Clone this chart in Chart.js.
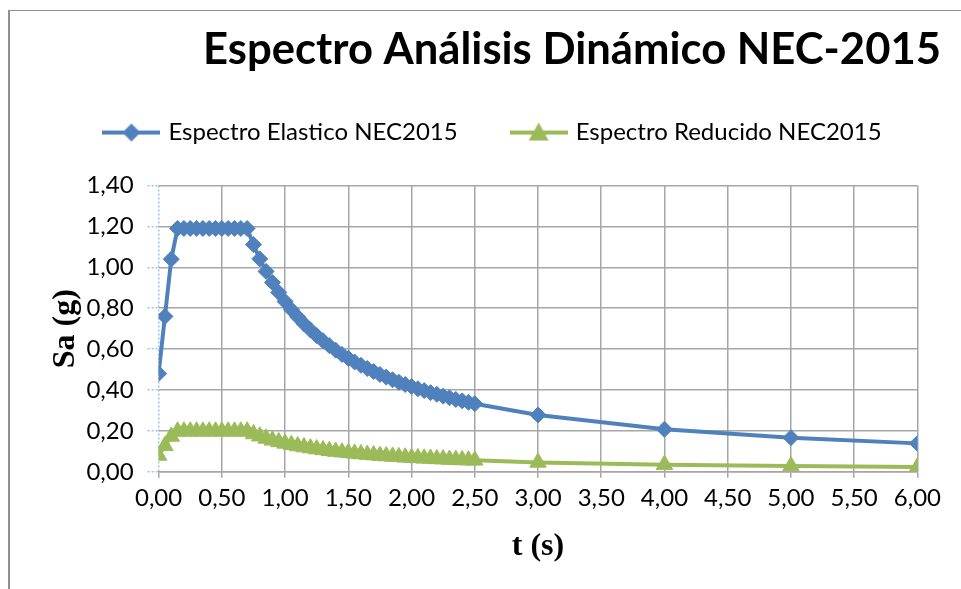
<!DOCTYPE html>
<html>
<head>
<meta charset="utf-8">
<script src="https://cdn.jsdelivr.net/npm/chart.js@4/dist/chart.umd.min.js"></script>
<style>
  html, body { margin: 0; padding: 0; background: #ffffff; }
  #wrap { position: relative; width: 961px; height: 589px; overflow: hidden; }
  #frame { position: absolute; left: 8px; top: 10px; width: 980px; height: 600px;
           border-left: 2px solid #8f8f8f; border-top: 1px solid #8f8f8f; box-sizing: border-box; }
  canvas { position: absolute; left: 0; top: 0; }
</style>
</head>
<body>
<div id="wrap">
  <div id="frame"></div>
  <canvas id="c" width="961" height="589"></canvas>
</div>
<script>
// ---- data ----
const chartTitle = 'Espectro Análisis Dinámico NEC-2015';
const seriesNames = ['Espectro Elastico NEC2015', 'Espectro Reducido NEC2015'];
const xTitle = 't (s)';
const yTitle = 'Sa (g)';

const periods = [
  0.00, 0.05, 0.10, 0.15, 0.20, 0.25, 0.30, 0.35, 0.40, 0.45,
  0.50, 0.55, 0.60, 0.65, 0.70, 0.75, 0.80, 0.85, 0.90, 0.95,
  1.00, 1.05, 1.10, 1.15, 1.20, 1.25, 1.30, 1.35, 1.40, 1.45,
  1.50, 1.55, 1.60, 1.65, 1.70, 1.75, 1.80, 1.85, 1.90, 1.95,
  2.00, 2.05, 2.10, 2.15, 2.20, 2.25, 2.30, 2.35, 2.40, 2.45,
  2.50, 3.00, 4.00, 5.00, 6.00
];

const elasticSa = [
  0.480, 0.760, 1.040, 1.190, 1.190, 1.190, 1.190, 1.190, 1.190, 1.190,
  1.190, 1.190, 1.190, 1.190, 1.190, 1.111, 1.041, 0.980, 0.926, 0.877,
  0.833, 0.793, 0.757, 0.724, 0.694, 0.666, 0.641, 0.617, 0.595, 0.574,
  0.555, 0.537, 0.521, 0.505, 0.490, 0.476, 0.463, 0.450, 0.438, 0.427,
  0.417, 0.406, 0.397, 0.387, 0.379, 0.370, 0.362, 0.354, 0.347, 0.340,
  0.333, 0.278, 0.208, 0.167, 0.139
];

const reducedSa = [
  0.080, 0.127, 0.173, 0.198, 0.198, 0.198, 0.198, 0.198, 0.198, 0.198,
  0.198, 0.198, 0.198, 0.198, 0.198, 0.185, 0.174, 0.163, 0.154, 0.146,
  0.139, 0.132, 0.126, 0.121, 0.116, 0.111, 0.107, 0.103, 0.099, 0.096,
  0.093, 0.090, 0.087, 0.084, 0.082, 0.079, 0.077, 0.075, 0.073, 0.071,
  0.069, 0.068, 0.066, 0.065, 0.063, 0.062, 0.060, 0.059, 0.058, 0.057,
  0.056, 0.046, 0.035, 0.028, 0.023
];

const xTickValues = [0, 0.5, 1, 1.5, 2, 2.5, 3, 3.5, 4, 4.5, 5, 5.5, 6];
const yTickValues = [0, 0.2, 0.4, 0.6, 0.8, 1.0, 1.2, 1.4];

// ---- styling ----
const BLUE = '#4F81BD';
const GREEN = '#9BBB59';
const GRID = '#a6a6a6';
const LIGHTBLUE = '#9dc3e6';
const fmt = v => Number(v).toFixed(2).replace('.', ',');

function legendIcon(color, shape) {
  const cv = document.createElement('canvas');
  cv.width = 58; cv.height = 22;
  const g = cv.getContext('2d');
  g.strokeStyle = color; g.lineWidth = 4;
  g.beginPath(); g.moveTo(0, 11); g.lineTo(58, 11); g.stroke();
  g.fillStyle = color;
  g.beginPath();
  if (shape === 'diamond') {
    g.moveTo(29, 2); g.lineTo(38, 11); g.lineTo(29, 20); g.lineTo(20, 11);
  } else {
    g.moveTo(29, 1); g.lineTo(39, 19); g.lineTo(19, 19);
  }
  g.closePath(); g.fill();
  return cv;
}
const icons = [legendIcon(BLUE, 'diamond'), legendIcon(GREEN, 'triangle')];

const toPoints = arr => arr.map((v, i) => ({ x: periods[i], y: v }));

// adds extra space below the legend (gap between legend and plot)
const legendGap = {
  id: 'legendGap',
  beforeLayout(chart) {
    const lg = chart.legend;
    if (lg && !lg._gapPatched) {
      const fit = lg.fit;
      lg.fit = function () { fit.call(this); this.height += 31; };
      lg._gapPatched = true;
    }
  }
};

new Chart(document.getElementById('c'), {
  type: 'line',
  data: {
    datasets: [
      {
        label: seriesNames[0],
        data: toPoints(elasticSa),
        borderColor: BLUE, backgroundColor: BLUE,
        borderWidth: 4,
        pointStyle: 'rectRot', pointRadius: 8,
        pointBackgroundColor: BLUE, pointBorderColor: BLUE, pointBorderWidth: 1,
        tension: 0
      },
      {
        label: seriesNames[1],
        data: toPoints(reducedSa),
        borderColor: GREEN, backgroundColor: GREEN,
        borderWidth: 4,
        pointStyle: 'triangle', pointRadius: 9.5,
        pointBackgroundColor: GREEN, pointBorderColor: GREEN, pointBorderWidth: 1,
        tension: 0
      }
    ]
  },
  plugins: [legendGap],
  options: {
    responsive: false,
    animation: false,
    events: [],
    layout: { padding: { left: 47, right: 20, top: 0, bottom: 23 } },
    plugins: {
      title: {
        display: true, text: chartTitle, align: 'end', color: '#000',
        font: { family: 'Lato', size: 43.6, weight: 'bold', lineHeight: 1.2 },
        padding: { top: 23.6, bottom: -11.4 }
      },
      legend: {
        display: true, position: 'top',
        labels: {
          usePointStyle: true, pointStyleWidth: 50,
          color: '#000', font: { family: 'Lato', size: 24 }, padding: 56,
          generateLabels: (chart) => chart.data.datasets.map((ds, i) => ({
            text: ds.label, pointStyle: icons[i], fillStyle: ds.borderColor,
            strokeStyle: ds.borderColor, lineWidth: 0, hidden: false, datasetIndex: i, fontColor: '#000'
          }))
        }
      },
      tooltip: { enabled: false }
    },
    scales: {
      x: {
        type: 'linear', min: 0, max: 6,
        afterBuildTicks: s => { s.ticks = xTickValues.map(v => ({ value: v })); },
        afterFit: s => { s.paddingRight = s.paddingRight + 14; },
        ticks: { callback: v => fmt(v), color: '#000', font: { family: 'Lato', size: 24 }, padding: 6, maxRotation: 0 },
        grid: {
          color: c => (c.tick && c.tick.value === 0) ? LIGHTBLUE : GRID,
          lineWidth: 1.5, tickColor: GRID, tickLength: 6
        },
        border: {
          display: true, color: GRID, width: 1.5,
          dash: c => (c.tick && c.tick.value === 0) ? [2, 2] : []
        },
        title: { display: true, text: xTitle, color: '#000',
                 font: { family: 'Liberation Serif', size: 32, weight: 'bold', lineHeight: 1.2 }, padding: { top: 9, bottom: 0 } }
      },
      y: {
        type: 'linear', min: 0, max: 1.4,
        afterBuildTicks: s => { s.ticks = yTickValues.map(v => ({ value: v })); },
        ticks: { callback: v => fmt(v), color: '#000', font: { family: 'Lato', size: 24 }, padding: 14 },
        grid: { color: GRID, lineWidth: 1.5, tickColor: LIGHTBLUE, tickLength: 11, tickBorderDash: [2, 2] },
        border: { display: false },
        title: { display: true, text: yTitle, color: '#000',
                 font: { family: 'Liberation Serif', size: 32, weight: 'bold', lineHeight: 1.2 }, padding: { top: 0, bottom: -13 } }
      }
    }
  }
});
</script>
</body>
</html>
